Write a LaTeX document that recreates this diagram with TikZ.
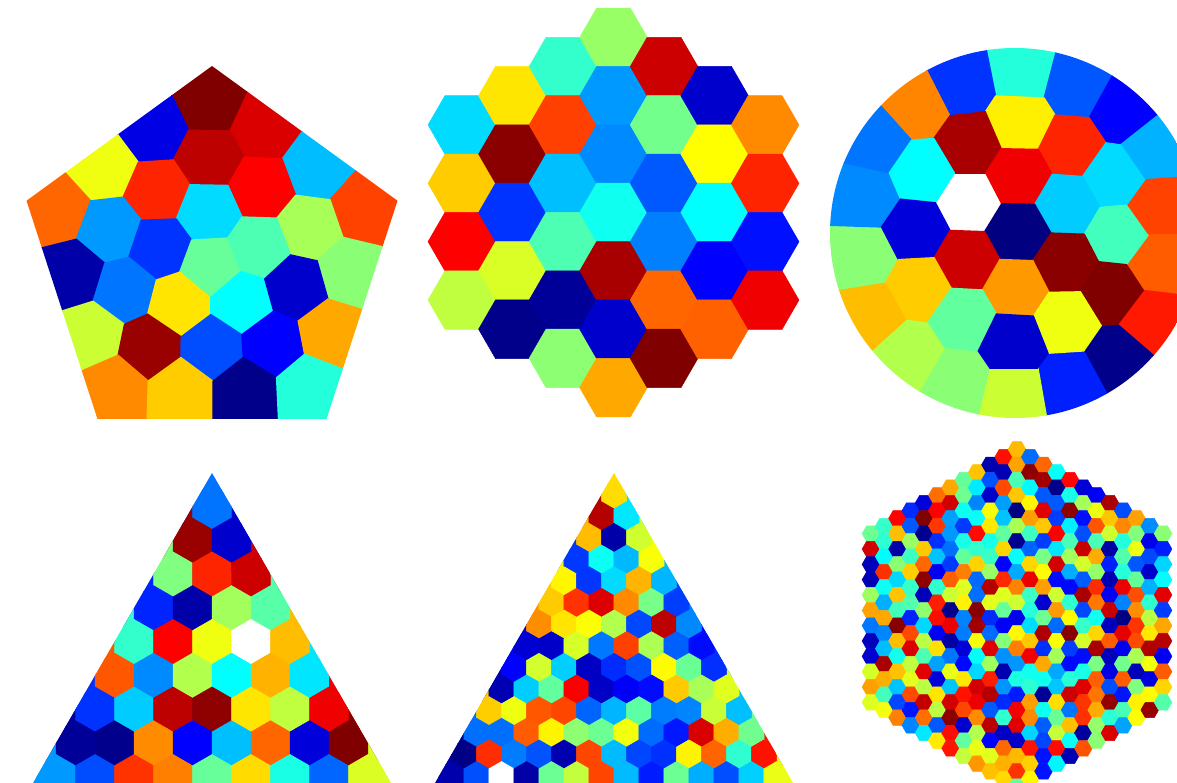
\documentclass[tikz,border=0pt]{standalone}
\usetikzlibrary{positioning}

\newcommand\setjet[1]{%
  \pgfmathsetmacro\cellr{ifthenelse(#1>1.5,1,max(0,min(1,min(4*#1-1.5,4.5-4*#1))))}%
  \pgfmathsetmacro\cellg{ifthenelse(#1>1.5,1,max(0,min(1,min(4*#1-0.5,3.5-4*#1))))}%
  \pgfmathsetmacro\cellb{ifthenelse(#1>1.5,1,max(0,min(1,min(4*#1+0.5,2.5-4*#1))))}%
  \definecolor{cellc}{rgb}{\cellr,\cellg,\cellb}}
\newcommand\flathex[3]{\filldraw[hexcell] (#1,#2) +(0:#3pt) -- +(60:#3pt) -- +(120:#3pt) -- +(180:#3pt) -- +(240:#3pt) -- +(300:#3pt) -- cycle;}
\newcommand\pointhex[3]{\filldraw[hexcell] (#1,#2) +(30:#3pt) -- +(90:#3pt) -- +(150:#3pt) -- +(210:#3pt) -- +(270:#3pt) -- +(330:#3pt) -- cycle;}
% one Voronoi cell per seed: intersect the half planes, then fill
\newcommand\voronoi[1]{%
  \foreach \xa/\ya/\val [count=\ia] in #1 {
    \begin{scope}
      \foreach \xb/\yb/\vb [count=\ib] in #1 {
        \ifnum\ia=\ib\else
          \pgfmathsetmacro\dx{\xb-\xa}
          \pgfmathsetmacro\dy{\yb-\ya}
          \pgfmathsetmacro\dd{veclen(\dx,\dy)}
          \ifdim\dd pt<160pt
            \pgfmathsetmacro\ux{\dx/\dd}
            \pgfmathsetmacro\uy{\dy/\dd}
            \pgfmathsetmacro\mx{(\xa+\xb)/2+0.6*\ux}
            \pgfmathsetmacro\my{(\ya+\yb)/2+0.6*\uy}
            \pgfmathsetmacro\pax{\mx-300*\uy}
            \pgfmathsetmacro\pay{\my+300*\ux}
            \pgfmathsetmacro\pbx{\mx+300*\uy}
            \pgfmathsetmacro\pby{\my-300*\ux}
            \pgfmathsetmacro\pcx{\pbx-300*\ux}
            \pgfmathsetmacro\pcy{\pby-300*\uy}
            \pgfmathsetmacro\pdx{\pax-300*\ux}
            \pgfmathsetmacro\pdy{\pay-300*\uy}
            \clip (\pax,\pay) -- (\pbx,\pby) -- (\pcx,\pcy) -- (\pdx,\pdy) -- cycle;
          \fi
        \fi}
      \setjet{\val}
      \fill[cellc] (0,0) rectangle (1177,782);
    \end{scope}}}

\newcommand\pentseeds{210/103/1, 154/130/0.1, 264/128/0.91, 103/168/0.61, 209/158/0.94,
  317/167/0.31, 57/210/0.775, 158/192/0.84, 261/188/0.875, 364/209/0.81,
  110/230/0.275, 208/212/0.34, 309/228/0.54, 73/274/0.04, 160/247/0.175,
  211/266/0.475, 259/247/0.45, 349/272/0.51, 125/290/0.24, 179/304/0.65,
  242/302/0.375, 296/287/0.075, 92/335/0.575, 150/347/0.975, 212/348/0.2,
  273/344/0.125, 330/333/0.71, 115/388/0.74, 181/390/0.675, 245/390/0.01,
  309/387/0.41}
\newcommand\discseeds{969/202/2, 1022/72/0.41, 962/84/0.175, 917/107/0.745,
  1076/86/0.21, 1123/112/0.125, 1153/150/0.3, 1157/208/0.81, 1157/263/0.785,
  1150/320/0.85, 1118/357/0.01, 1070/383/0.155, 1013/393/0.575, 957/380/0.51,
  910/353/0.55, 873/312/0.69, 864/257/0.51, 866/196/0.26, 878/142/0.24,
  1020/122/0.64, 1071/147/0.84, 969/144/0.96, 922/172/0.375, 1019/176/0.89,
  1114/177/0.34, 1067/204/0.325, 916/230/0.09, 1018/232/0, 1119/235/0.44,
  967/260/0.925, 1065/263/0.99, 919/287/0.675, 1016/288/0.725, 1113/292/1,
  964/318/0.47, 1066/321/0.61, 1013/342/0.075}

\begin{document}
\begin{tikzpicture}[
  x=1pt, y=-1pt,
  hexcell/.style={fill=cellc, draw=cellc, line width=.5pt}
]
  \useasboundingbox (0,0) rectangle (1177,782);
  \clip (0,0) rectangle (1177,782);

  % pentagon
  \begin{scope}
    \clip (212,66) -- (397.5,200.7) -- (326.6,418.8) -- (97.4,418.8) -- (26.5,200.7) -- cycle;
    \voronoi{\pentseeds}
  \end{scope}

  % hexagon of hexagons
  \foreach \col/\vals in {-3/{0.34,0.675,0.875,0.5625},
      -2/{0.65,0.99,0.175,0.5875,0.01},
      -1/{0.425,0.8125,0.3125,0.45,0.025,0.5125},
      0/{0.525,0.275,0.26,0.39,0.96,0.075,0.71},
      1/{0.925,0.4875,0.2125,0.25,0.775,1},
      2/{0.075,0.625,0.375,0.125,0.78},
      3/{0.74,0.84,0.14,0.89}}
    \foreach \val [count=\k from 0] in \vals {
      \pgfmathsetmacro\x{613.5+50.55*\col}
      \pgfmathsetmacro\y{212.5+58.37*(\k-(6-abs(\col))/2)}
      \setjet{\val}\flathex{\x}{\y}{33.8}}

  % disc
  \begin{scope}
    \clip (1015,233) circle[radius=185pt];
    \voronoi{\discseeds}
  \end{scope}

  % coarse triangle
  \begin{scope}
    \clip (212,473) -- (212+280,473+485) -- (212-280,473+485) -- cycle;
    \foreach \hs in {36,22.5}
      \foreach \row/\vals in {1/{0.2375}, 2/{0.975,0.075}, 3/{0.5,0.84,0.925},
          4/{0.16,0.04,0.535,0.46}, 5/{0.425,0.875,0.61,2,0.69},
          6/{0.79,0.26,0.55,0.375,0.7,0.35},
          7/{0.175,0.325,0.94,0.985,0.65,0.5625,0.89},
          8/{0.025,0.0125,0.7375,0.125,0.3125,0.775,0.09,1},
          9/{0.275,0.2,0.825,0.75,0.475,0.66,0.4,0.225,0.59}}
        \foreach \val [count=\j] in \vals {
          \pgfmathsetmacro\x{212+39*(\j-(\row+1)/2)}
          \pgfmathsetmacro\y{506.8+33.77*(\row-1)}
          \setjet{\val}\pointhex{\x}{\y}{\hs}}
  \end{scope}

  % fine triangle
  \begin{scope}
    \clip (614,473) -- (614+280,473+485) -- (614-280,473+485) -- cycle;
    \foreach \hs in {22,14.6}{
      \pgfmathsetseed{11}
      \foreach \row in {1,...,14}
        \foreach \j in {1,...,\row}{
          \pgfmathsetmacro\val{rnd}
          \ifnum\row=14 \ifnum\j=3 \def\val{2}\fi\fi
          \pgfmathsetmacro\x{614+25*(\j-(\row+1)/2)}
          \pgfmathsetmacro\y{494.65+21.65*(\row-1)}
          \setjet{\val}\pointhex{\x}{\y}{\hs}}}
  \end{scope}

  % fine hexagon
  \pgfmathsetseed{5}
  \foreach \col in {-11,...,11}
    \foreach \rw in {-11,...,11}{
      \pgfmathtruncatemacro\qrs{abs(\col+\rw)}
      \ifnum\qrs<12
        \pgfmathsetmacro\val{rnd}
        \pgfmathsetmacro\x{1017+13.275*\col}
        \pgfmathsetmacro\y{618+15.33*(\rw+\col/2)}
        \setjet{\val}\flathex{\x}{\y}{8.9}
      \fi}
\end{tikzpicture}
\end{document}
